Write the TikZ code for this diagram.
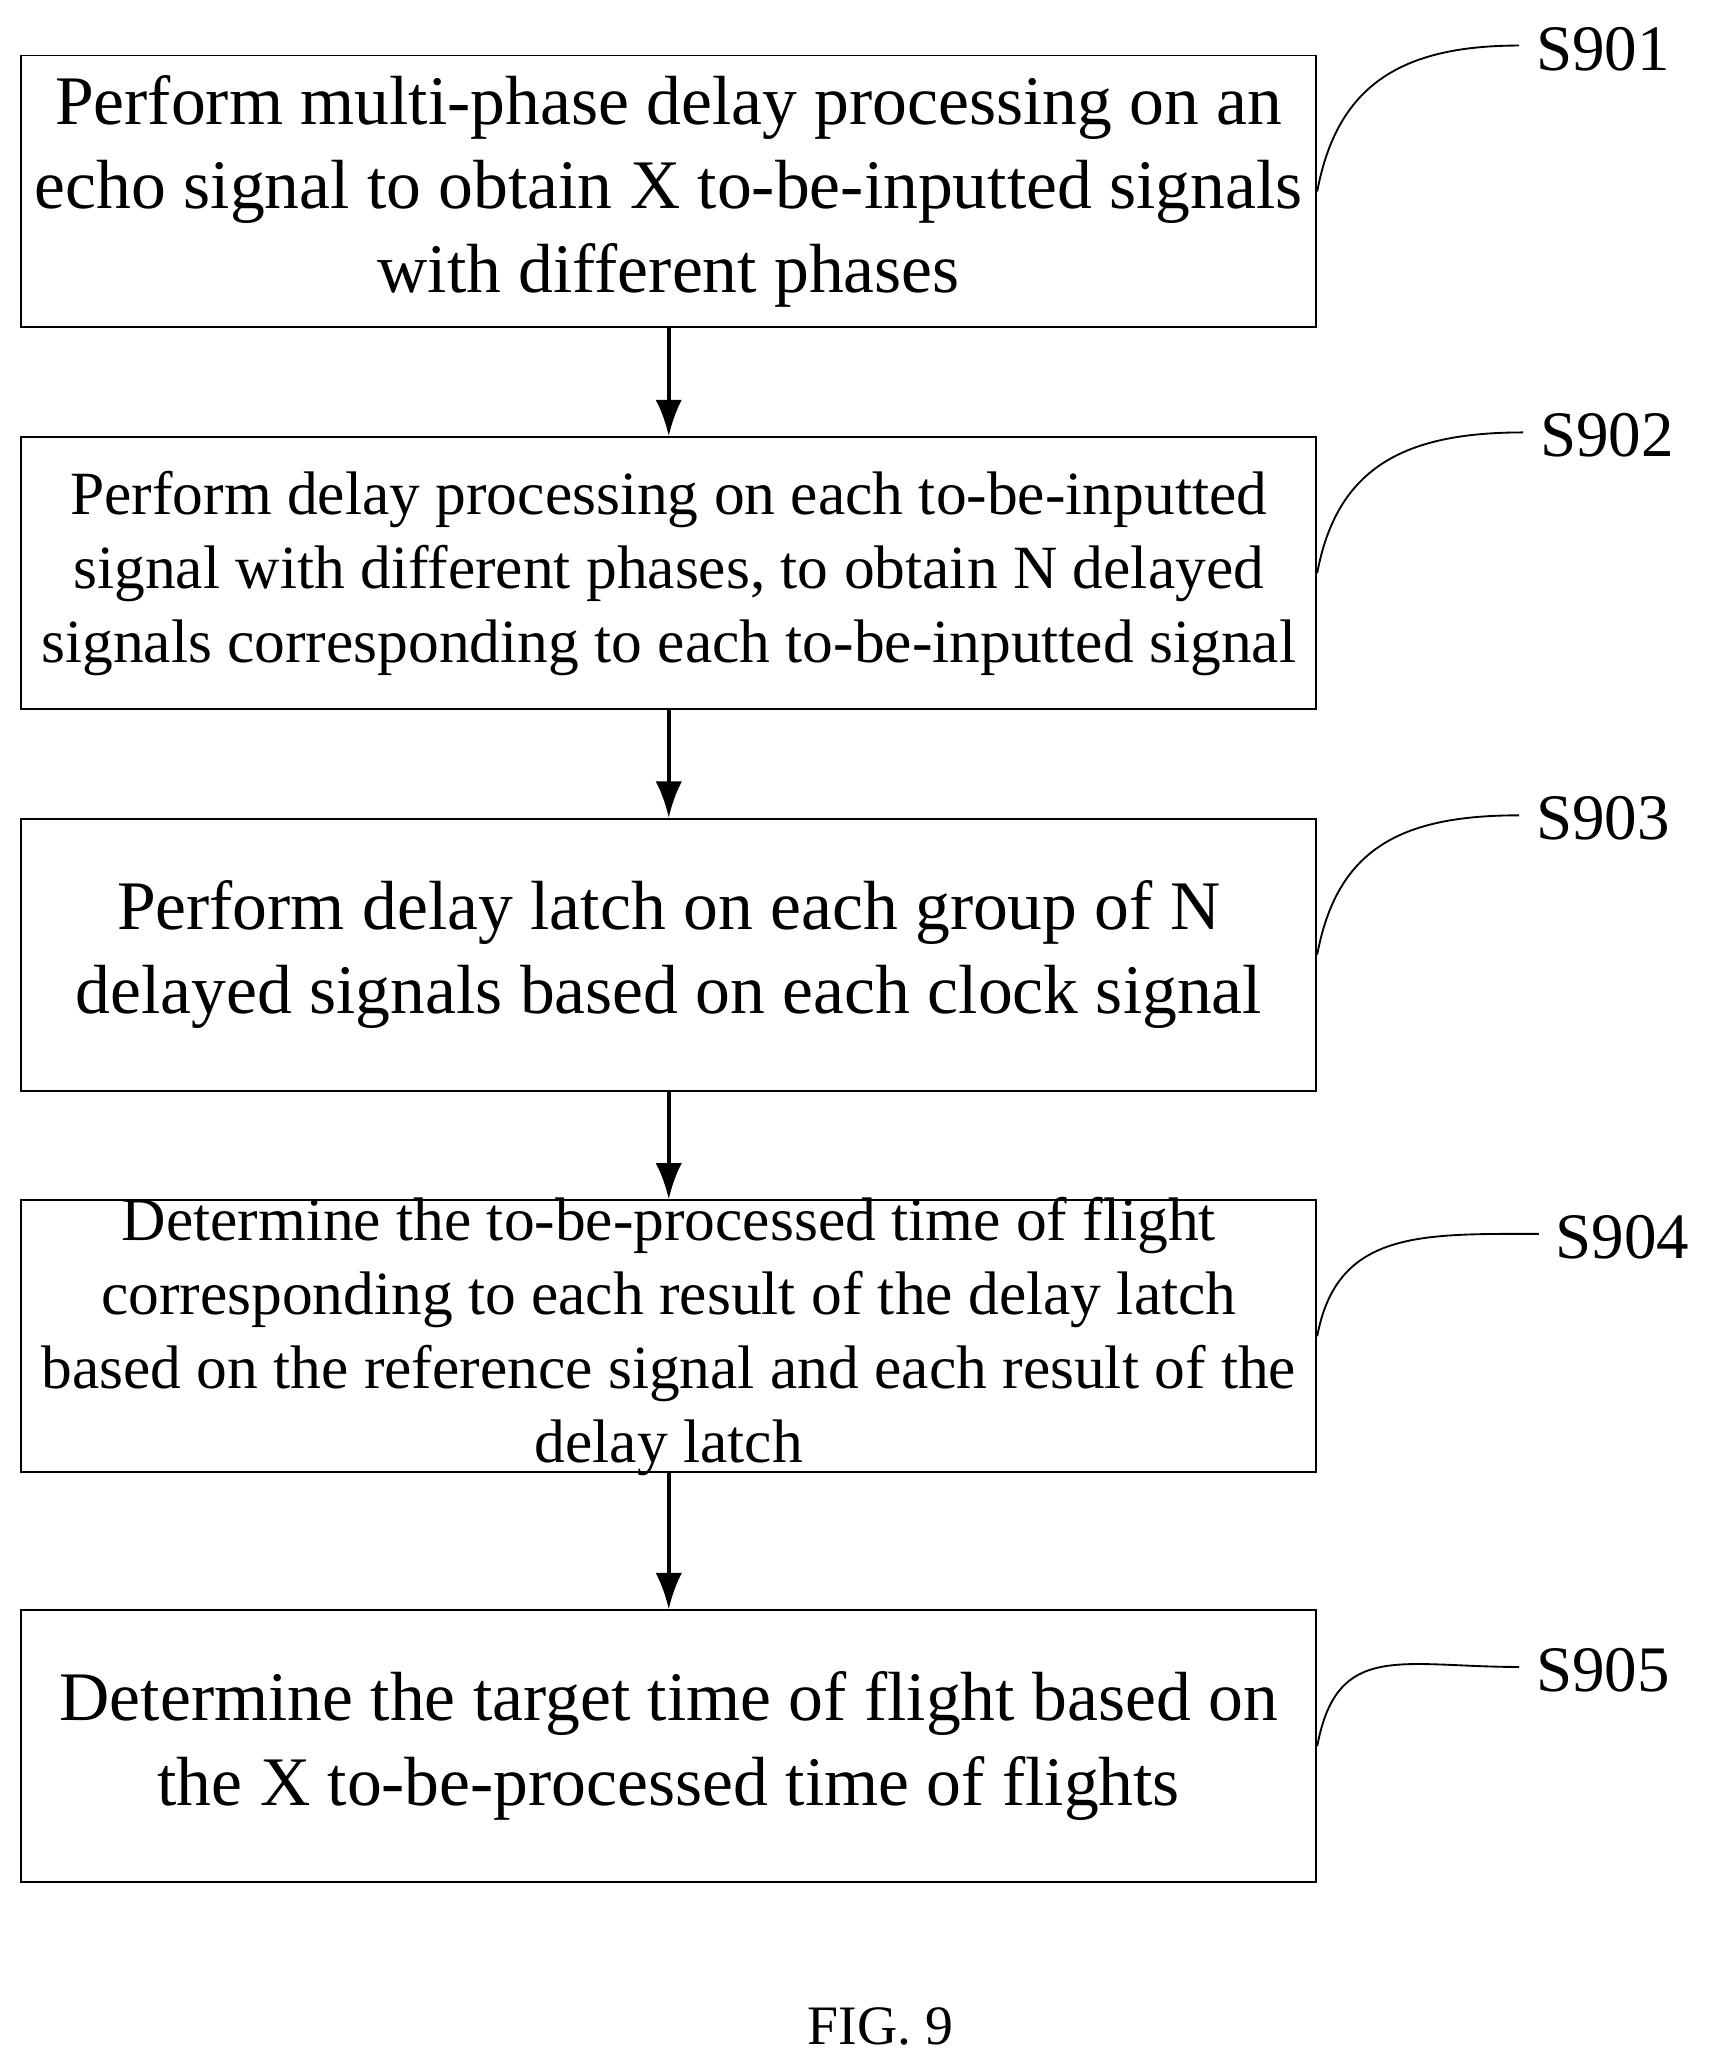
\documentclass[tikz,border=0pt]{standalone}
\usepackage{fontspec}
\setmainfont{Liberation Serif}
\usetikzlibrary{positioning}
\tikzset{
  box/.style={draw,thick,minimum width=19.62cm,minimum height=4.12cm,inner sep=0pt},
  big/.style={align=center,font=\fontsize{30}{36.4}\selectfont},
  small/.style={align=center,font=\fontsize{26.5}{31.9}\selectfont},
  lab/.style={anchor=west,font=\fontsize{28}{32}\selectfont,inner sep=0pt},
  arr/.style={line width=1.6pt,-{Latex[length=0.55cm,width=0.4cm]}},
}
\usetikzlibrary{arrows.meta}
\begin{document}
\begin{tikzpicture}[x=0.02cm,y=-0.02cm]
        \useasboundingbox (0,0) rectangle (1299,1567);
        \node[box] (s1) at (506.5,145) {};
        \node[box] (s2) at (506.5,434) {};
        \node[box] (s3) at (506.5,723) {};
        \node[box] (s4) at (506.5,1012) {};
        \node[box] (s5) at (506.5,1322.5) {};
        
        \node[big] at (s1) {Perform multi-phase delay processing on an\\echo signal to obtain X to-be-inputted signals\\with different phases};
        \node[small] at (s2) {Perform delay processing on each to-be-inputted\\signal with different phases, to obtain N delayed\\signals corresponding to each to-be-inputted signal};
        \node[big] at (s3) {Perform delay latch on each group of N\\delayed signals based on each clock signal};
        \node[small] at (s4) {Determine the to-be-processed time of flight\\corresponding to each result of the delay latch\\based on the reference signal and each result of the\\delay latch};
        \node[big] at (s5) {Determine the target time of flight based on\\the X to-be-processed time of flights};
        
        \foreach \a/\b in {s1/s2,s2/s3,s3/s4,s4/s5}{
            \draw[arr] (\a.south) -- (\b.north);
        }
        
        \node[lab] (l1) at (1163,37) {S901};
        \node[lab] (l2) at (1166,330) {S902};
        \node[lab] (l3) at (1163,620) {S903};
        \node[lab] (l4) at (1178,937) {S904};
        \node[lab] (l5) at (1163,1265) {S905};
        \foreach \a/\b in {s1/l1,s2/l2,s3/l3,s4/l4,s5/l5}{
            \draw[thick] (\a.east) .. controls +(15,-80) and +(-90,0) .. ([xshift=-0.25cm,yshift=0.05cm]\b.west);
        }
        
        \node[font=\fontsize{24}{28}\selectfont] (fig) at (667,1535) {FIG. 9};
    \end{tikzpicture}
\end{document}
